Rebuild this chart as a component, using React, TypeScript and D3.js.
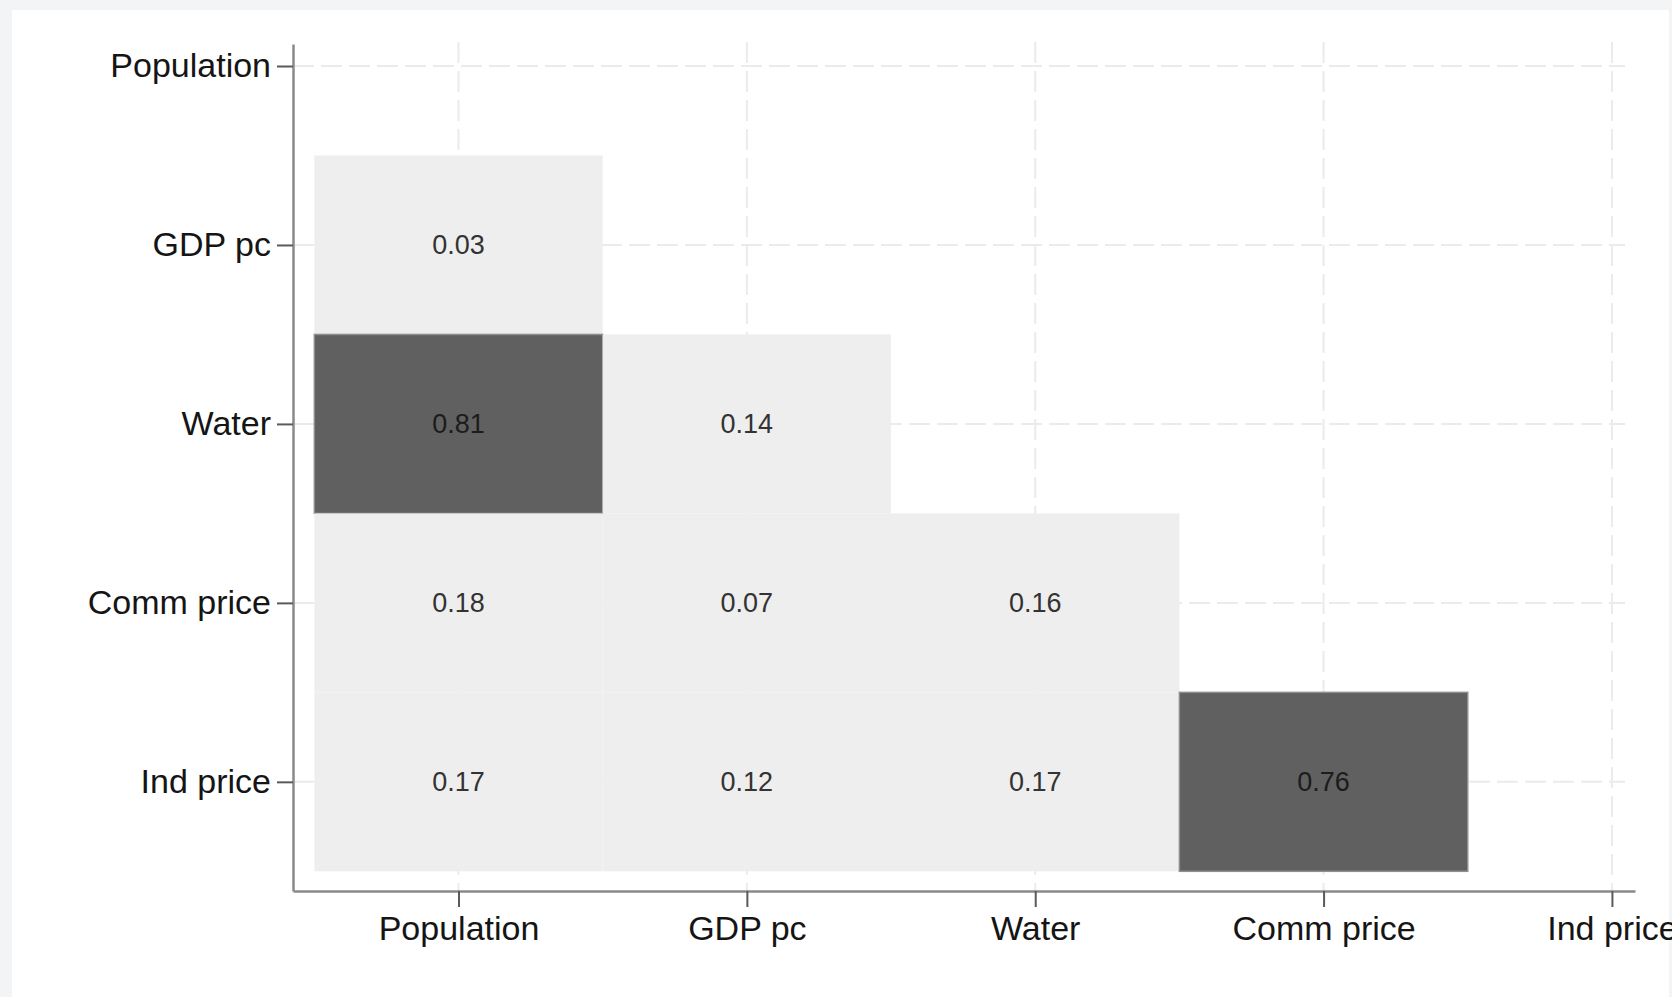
import React, { useEffect, useRef } from "react";
import * as d3 from "d3";

const variables = ["Population", "GDP pc", "Water", "Comm price", "Ind price"];
// lower-triangle correlations: row variable -> values against column variables
const rowGDPpc = [0.03];
const rowWater = [0.81, 0.14];
const rowCommPrice = [0.18, 0.07, 0.16];
const rowIndPrice = [0.17, 0.12, 0.17, 0.76];
const lowerRows = [rowGDPpc, rowWater, rowCommPrice, rowIndPrice];

const W = 1672;
const H = 997;

export default function App() {
  const ref = useRef<SVGSVGElement | null>(null);

  useEffect(() => {
    const svg = d3.select(ref.current);
    svg.selectAll("*").remove();

    const font = "'Liberation Sans', Arial, Helvetica, sans-serif";

    // background & panel
    svg.append("rect").attr("x", 0).attr("y", 0).attr("width", W).attr("height", H).attr("fill", "#f3f4f6");
    svg.append("rect").attr("x", 12).attr("y", 10).attr("width", 1657).attr("height", H - 10).attr("fill", "#ffffff");

    const left = 293, right = 1635, top = 44, bottom = 891;
    const x = d3.scaleLinear().domain([0.426, 5.08]).range([left, right]);
    const y = d3.scaleLinear().domain([0.877, 5.61]).range([top, bottom]);
    const idx = variables.map((_, i) => i + 1);
    const stepX = x(2) - x(1);
    const stepY = y(2) - y(1);

    // grid
    const grid = svg.append("g");
    grid.selectAll("line.h").data(idx).enter().append("line")
      .attr("x1", left).attr("x2", 1625)
      .attr("y1", (d) => y(d)).attr("y2", (d) => y(d))
      .attr("stroke", "#ebebeb").attr("stroke-width", 2).attr("stroke-dasharray", "21 7");
    grid.selectAll("line.v").data(idx).enter().append("line")
      .attr("x1", (d) => x(d)).attr("x2", (d) => x(d))
      .attr("y1", 42).attr("y2", bottom)
      .attr("stroke", "#ebebeb").attr("stroke-width", 2).attr("stroke-dasharray", "21 8");

    // cells
    const cells: { r: number; c: number; v: number }[] = [];
    lowerRows.forEach((row, ri) => row.forEach((v, ci) => cells.push({ r: ri + 2, c: ci + 1, v })));
    const color = d3.scaleThreshold<number, string>().domain([0.5]).range(["#eeeeee", "#606060"]);
    const textColor = d3.scaleThreshold<number, string>().domain([0.5]).range(["#333333", "#1c1c1c"]);

    const cg = svg.append("g");
    cg.selectAll("rect").data(cells).enter().append("rect")
      .attr("x", (d) => x(d.c) - stepX / 2)
      .attr("y", (d) => y(d.r) - stepY / 2)
      .attr("width", stepX)
      .attr("height", stepY)
      .attr("fill", (d) => color(d.v))
      .attr("stroke", (d) => (d.v > 0.5 ? "#8f8f8f" : "none"))
      .attr("stroke-width", 1.5);
    cg.selectAll("text").data(cells).enter().append("text")
      .attr("x", (d) => x(d.c))
      .attr("y", (d) => y(d.r))
      .attr("dy", "0.35em")
      .attr("text-anchor", "middle")
      .attr("font-family", font)
      .attr("font-size", 27)
      .attr("fill", (d) => textColor(d.v))
      .text((d) => d3.format(".2f")(d.v));

    // axes
    const fmt = (d: d3.NumberValue) => variables[(d as number) - 1];
    const yAxis = d3.axisLeft(y).tickValues(idx).tickFormat(fmt).tickSize(16).tickSizeOuter(0).tickPadding(6);
    const xAxis = d3.axisBottom(x).tickValues(idx).tickFormat(fmt).tickSize(16).tickSizeOuter(0).tickPadding(9);

    const gy = svg.append("g").attr("transform", `translate(${left},0)`).call(yAxis);
    const gx = svg.append("g").attr("transform", `translate(0,${bottom})`).call(xAxis);
    [gx, gy].forEach((g) => {
      g.select(".domain").attr("stroke", "#8a8a8a").attr("stroke-width", 2.5);
      g.selectAll(".tick line").attr("stroke", "#5a5a5a").attr("stroke-width", 2);
      g.selectAll(".tick text")
        .attr("font-family", font)
        .attr("font-size", 34)
        .attr("fill", "#151515");
    });
  }, []);

  return (
    <svg
      ref={ref}
      width={W}
      height={H}
      style={{ position: "absolute", left: 0, top: 0, display: "block" }}
    />
  );
}
